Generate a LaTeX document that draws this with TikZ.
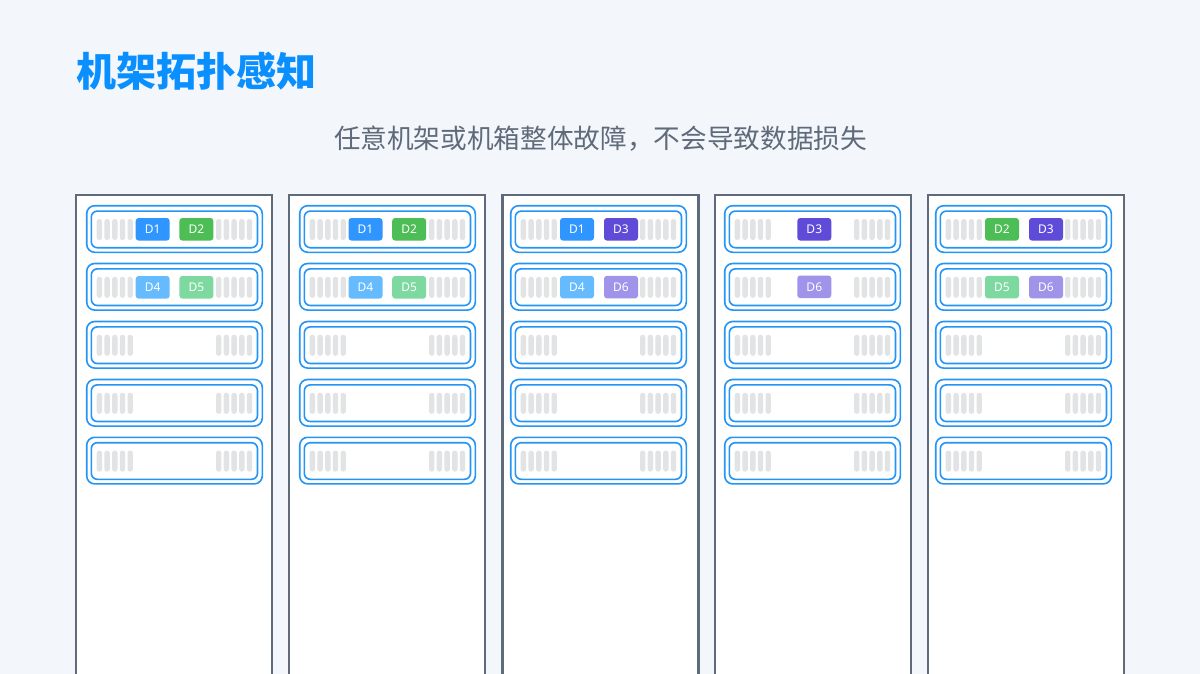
\documentclass[tikz,border=0pt]{standalone}
\usepackage{fontspec}
\setmainfont{Noto Sans}
\newfontfamily\cjkfont{Noto Sans CJK SC}
\newfontfamily\cjkbold{Noto Sans CJK SC Black}
\definecolor{pagebg}{HTML}{F3F7FC}
\definecolor{titleblue}{HTML}{0A8FFF}
\definecolor{subgray}{HTML}{5F6B7A}
\definecolor{rackgray}{HTML}{5F6B7A}
\definecolor{slotblue}{HTML}{2494F6}
\definecolor{bargray}{HTML}{E2E3E5}
\definecolor{dblue}{HTML}{3096FF}
\definecolor{dgreen}{HTML}{4DBD55}
\definecolor{dsky}{HTML}{66BBFF}
\definecolor{dmint}{HTML}{7DD9A0}
\definecolor{dviolet}{HTML}{5E4BD8}
\definecolor{dlilac}{HTML}{A093EA}
\tikzset{
  rackbox/.style={draw=rackgray, line width=2.5pt, fill=white},
  slotbox/.style={draw=slotblue, line width=1.6pt, rounded corners=8pt},
  ventbar/.style={fill=bargray, rounded corners=2.5pt},
  chiplabel/.style={text=white, font=\fontsize{12}{12}\selectfont, inner sep=0pt}
}

\begin{document}
\begin{tikzpicture}[x=1pt,y=-1pt]
  \useasboundingbox (0,0) rectangle (1200,674);
  \fill[pagebg] (0,0) rectangle (1200,674);

  % Headings
  \node[text=titleblue, font=\fontsize{40}{40}\cjkbold\selectfont, anchor=west, inner sep=0pt] (heading) at (76.5,71) {机架拓扑感知};
  \node[text=subgray, font=\fontsize{26.65}{26.65}\cjkfont\selectfont, inner sep=0pt] (subheading) at (600.5,139) {任意机架或机箱整体故障，不会导致数据损失};

  % Racks and their slots
  \foreach \xr/\xs in {76/86.7,289/299.7,502.3/510.7,714.8/724.7,927.8/935.7} {
    \draw[rackbox] (\xr,195) -- (\xr+196.2,195) -- (\xr+196.2,678) -- (\xr,678) -- cycle;
    \foreach \yr in {205.7,263.5,321.5,379.5,437.3} {
      \draw[slotbox] (\xs,\yr) rectangle ++(175.6,46.6);
      \draw[slotbox, rounded corners=6pt] (\xs+4.6,\yr+5.4) rectangle ++(166.2,36.6);
      \foreach \k in {0,...,4} {
        \fill[ventbar] (\xs+10+\k*7.7,\yr+13.3) rectangle ++(5.4,21);
        \fill[ventbar] (\xs+129.3+\k*7.7,\yr+13.3) rectangle ++(5.4,21);
      }
    }
  }

  % Data blocks
  \foreach \xc/\yc/\word/\col [count=\n] in {
      135.7/218/D1/dblue, 179.4/218/D2/dgreen, 135.7/276/D4/dsky, 179.4/276/D5/dmint,
      348.5/218/D1/dblue, 392.2/218/D2/dgreen, 348.5/276/D4/dsky, 392.2/276/D5/dmint,
      560/218/D1/dblue, 604/218/D3/dviolet, 560/275.8/D4/dsky, 604/275.8/D6/dlilac,
      797.3/218/D3/dviolet, 797.3/275.5/D6/dlilac,
      985/218/D2/dgreen, 1029/218/D3/dviolet, 985/275.8/D5/dmint, 1029/275.8/D6/dlilac} {
    \fill[fill=\col, rounded corners=3pt] (\xc,\yc) rectangle ++(34,22.6) node[pos=.5, chiplabel] (chip\n) {\word};
  }
\end{tikzpicture}
\end{document}
